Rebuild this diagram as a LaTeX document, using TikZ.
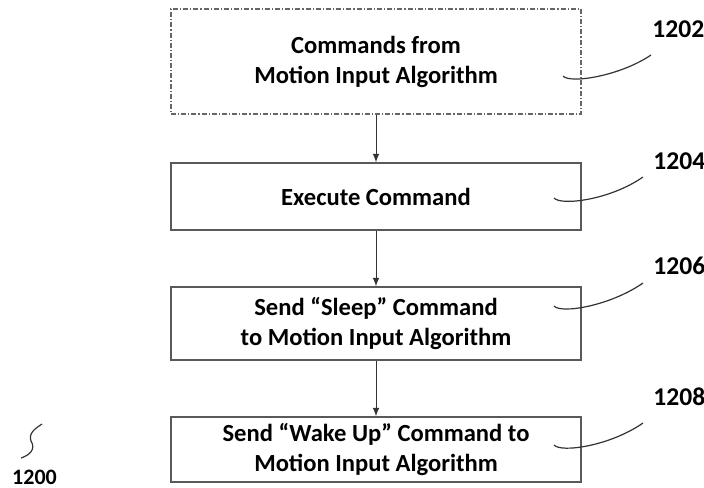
\documentclass[tikz,border=0pt]{standalone}
\usepackage{fontspec}
\setmainfont{Carlito}

\tikzset{
  stepbox/.style={draw=black!65, line width=0.6pt, minimum width=205pt,
    align=center, inner sep=0pt, font=\bfseries\fontsize{12.3}{15}\selectfont},
  srcbox/.style={stepbox, draw=black!60, line width=0.55pt,
    dash pattern=on 2.5pt off 1pt on 0.6pt off 1pt},
  refnum/.style={anchor=west, inner sep=0pt, font=\bfseries\fontsize{12.8}{14}\selectfont},
  leader/.style={line width=0.6pt, black!80},
}

\begin{document}
\begin{tikzpicture}[x=0.5pt, y=-0.5pt]

\useasboundingbox (0,0) rectangle (704,487); %% page size

%% flow steps
\node[srcbox, minimum height=52.5pt] (cmds) at (376,61.5)
  {Commands from\\Motion Input Algorithm};
\node[stepbox, minimum height=33.5pt] (exec) at (376,196.5)
  {Execute Command};
\node[stepbox, minimum height=36.5pt] (sleep) at (376,323.5)
  {Send “Sleep” Command\\to Motion Input Algorithm};
\node[stepbox, minimum height=32.5pt] (wake) at (376,449.5)
  {Send “Wake Up” Command to\\Motion Input Algorithm};

\draw[-latex, black!80, line width=0.5pt] (cmds) -- (exec);
\draw[-latex, black!80, line width=0.5pt] (exec) -- (sleep);
\draw[-latex, black!80, line width=0.5pt] (sleep) -- (wake);

%% reference numerals
\node[refnum] (n1202) at (652,29) {1202};
\node[refnum] (n1204) at (653,161) {1204};
\node[refnum] (n1206) at (653,266) {1206};
\node[refnum] (n1208) at (653,397) {1208};

\coordinate (a1) at (563,76);  \coordinate (b1) at (651,55);
\coordinate (a2) at (554,198); \coordinate (b2) at (643,177);
\coordinate (a3) at (554,306); \coordinate (b3) at (643,283);
\coordinate (a4) at (554,445); \coordinate (b4) at (643,423);

\draw[leader] (a1) .. controls (570,84) and (620,76) .. (b1);
\draw[leader] (a2) .. controls (561,206) and (610,200) .. (b2);
\draw[leader] (a3) .. controls (561,314) and (610,306) .. (b3);
\draw[leader] (a4) .. controls (561,453) and (610,446) .. (b4);

%% figure number
\node[refnum, anchor=center, font=\bfseries\fontsize{11}{13}\selectfont]
  (n1200) at (34.5,477) {1200};
\coordinate (s0) at (21,458);
\coordinate (s1) at (42,424);
\draw[leader] (s0) .. controls (30,455) and (36,449) .. (31,441)
  .. controls (28,433) and (36,428) .. (s1);

\end{tikzpicture}
\end{document}
